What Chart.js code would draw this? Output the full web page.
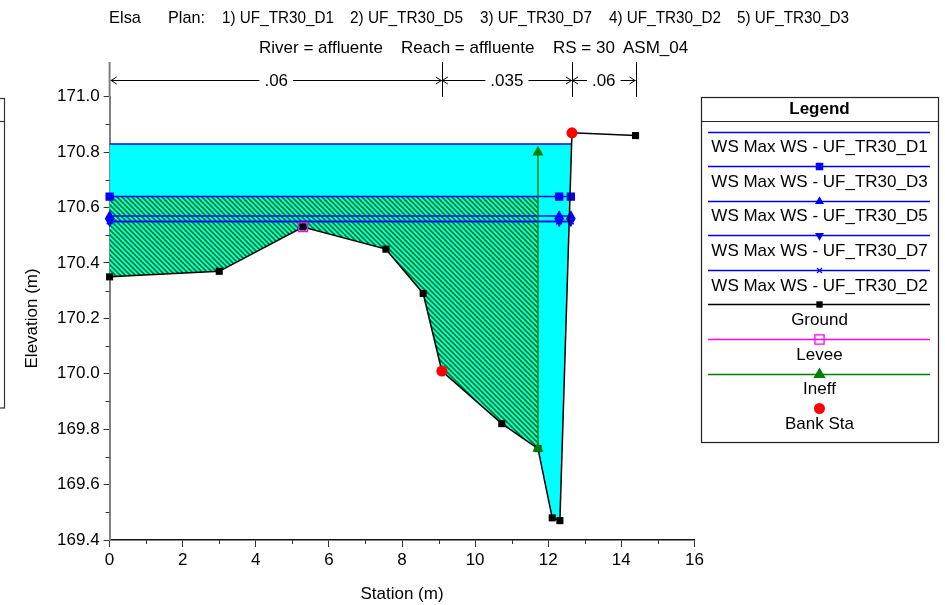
<!DOCTYPE html>
<html>
<head>
<meta charset="utf-8">
<script src="https://cdn.jsdelivr.net/npm/chart.js@4.4.1/dist/chart.umd.min.js"></script>
<style>
html,body{margin:0;padding:0;background:#fff;}
#wrap{width:945px;height:605px;position:relative;}
canvas{display:block;}
</style>
</head>
<body>
<div id="wrap"><canvas id="c" width="945" height="605"></canvas></div>
<script>
// ---------------- data ----------------
const groundStations = [0, 3.0, 5.29, 7.56, 8.58, 9.09, 10.73, 11.72, 12.11, 12.32, 12.65, 14.39];
const groundElev     = [170.35, 170.37, 170.53, 170.45, 170.29, 170.01, 169.82, 169.73, 169.48, 169.47, 170.87, 170.86];

const wsLabels   = ['WS Max WS - UF_TR30_D1', 'WS Max WS - UF_TR30_D3', 'WS Max WS - UF_TR30_D5', 'WS Max WS - UF_TR30_D7', 'WS Max WS - UF_TR30_D2'];
const wsElev     = [170.83, 170.64, 170.57, 170.55, 170.55];
const wsLeftSta  = [0, 0, 0, 0, 0];
const wsMidSta   = [12.30, 12.30, 12.30, 12.30, 12.30];
const wsRightSta = [12.64, 12.62, 12.62, 12.62, 12.62];

const leveeSta  = [5.29];
const leveeElev = [170.53];

const ineffSta  = [11.72, 11.72];
const ineffElev = [169.73, 170.80];

const bankSta  = [9.09, 12.65];
const bankElev = [170.01, 170.87];

const manningSta = [0, 9.09, 12.65, 14.39];
const manningN   = ['.06', '.035', '.06'];

const xTickValues = [0, 2, 4, 6, 8, 10, 12, 14, 16];
const yTickValues = [169.4, 169.6, 169.8, 170.0, 170.2, 170.4, 170.6, 170.8, 171.0];

const titleLine1 = ['Elsa', 'Plan:', '1) UF_TR30_D1', '2) UF_TR30_D5', '3) UF_TR30_D7', '4) UF_TR30_D2', '5) UF_TR30_D3'];
const titleLine2 = ['River = affluente', 'Reach = affluente', 'RS = 30', 'ASM_04'];

// ---------------- layout / style ----------------
const FONT = '"Liberation Sans", Arial, Helvetica, sans-serif';
const title1Pos = [[109,141],[168,205],[222,334],[350,463],[480,592],[609,721],[737,849]];
const title2Pos = [259, 401, 553, 623];
const BLUE = '#0000FF', GREEN = '#008000', CYAN = '#00FFFF';

Chart.defaults.font.family = FONT;
Chart.defaults.font.size = 17;
Chart.defaults.color = '#000';

const pts = (xs, ys) => xs.map((x, i) => ({x: x, y: ys[i]}));
const ground = pts(groundStations, groundElev);

function makeHatch() {
  const p = document.createElement('canvas');
  p.width = 5; p.height = 5;
  const g = p.getContext('2d');
  g.fillStyle = CYAN; g.fillRect(0, 0, 5, 5);
  g.strokeStyle = GREEN; g.lineWidth = 1.7;
  for (const o of [-5, 0, 5]) {
    g.beginPath(); g.moveTo(o - 1, -1); g.lineTo(o + 6, 6); g.stroke();
  }
  return g.createPattern(p, 'repeat');
}

// water area: D1 surface down to ground
const cyanPoly = [{x: wsLeftSta[0], y: wsElev[0]}, {x: wsRightSta[0], y: wsElev[0]}]
  .concat(ground.filter(p => p.x < wsRightSta[0]).reverse());
// ineffective area: below D3 surface, left of ineff station
const hatchPoly = [{x: wsLeftSta[1], y: wsElev[1]}, {x: ineffSta[0], y: wsElev[1]}, {x: ineffSta[0], y: ineffElev[0]}]
  .concat(ground.filter(p => p.x < ineffSta[0]).reverse());

const wsStyles = [
  {pointStyle: 'circle', radius: 0, rotation: 0, lr: 0},
  {pointStyle: 'rect', radius: 5, rotation: 0, lr: 4.5},
  {pointStyle: 'triangle', radius: 4.5, rotation: 0, lr: 4},
  {pointStyle: 'triangle', radius: 4.5, rotation: 180, lr: 4},
  {pointStyle: 'crossRot', radius: 4, rotation: 0, lr: 3.5}
];

const datasets = [];
datasets.push({label: 'area', data: cyanPoly, order: 20, fill: 'shape', backgroundColor: CYAN,
  borderWidth: 0, borderColor: 'rgba(0,0,0,0)', pointRadius: 0, tension: 0, noLegend: true});
datasets.push({label: 'ineffArea', data: hatchPoly, order: 19, fill: 'shape', backgroundColor: makeHatch(),
  borderWidth: 0, borderColor: 'rgba(0,0,0,0)', pointRadius: 0, tension: 0, noLegend: true});
for (let i = wsLabels.length - 1; i >= 0; i--) {
  const s = wsStyles[i];
  datasets.push({label: wsLabels[i], legendIndex: i,
    data: [{x: wsLeftSta[i], y: wsElev[i]}, {x: wsMidSta[i], y: wsElev[i]}, {x: wsRightSta[i], y: wsElev[i]}],
    order: 10 + i, borderColor: BLUE, backgroundColor: BLUE, borderWidth: 1.5, fill: false, clip: false,
    pointStyle: s.pointStyle, pointRadius: s.radius, pointRotation: s.rotation, pointBorderWidth: 1.2,
    pointBorderColor: BLUE, pointBackgroundColor: BLUE, legendRadius: s.lr, showLine: true});
}
datasets.push({label: 'Ground', legendIndex: 5, data: ground, order: 4, borderColor: '#000',
  backgroundColor: '#000', borderWidth: 1.5, fill: false, clip: false, pointStyle: 'rect', pointRadius: 5,
  pointBorderWidth: 0, legendRadius: 4.5});
datasets.push({label: 'Ineff', legendIndex: 7, data: pts(ineffSta, ineffElev), order: 3, borderColor: GREEN,
  backgroundColor: GREEN, borderWidth: 1.5, fill: false, clip: false, pointStyle: 'triangle', pointRadius: 6.5,
  pointBorderWidth: 0, legendRadius: 7});
datasets.push({label: 'Levee', legendIndex: 6, data: pts(leveeSta, leveeElev), order: 2, borderColor: '#FF00FF',
  backgroundColor: 'rgba(0,0,0,0)', borderWidth: 1.5, showLine: false, fill: false, clip: false, pointStyle: 'rect',
  pointRadius: 6.5, pointBorderWidth: 1.3, pointBorderColor: '#FF00FF', pointBackgroundColor: 'rgba(0,0,0,0)', legendRadius: 6.5});
datasets.push({label: 'Bank Sta', legendIndex: 8, data: pts(bankSta, bankElev), order: 1, borderColor: '#FF0000',
  backgroundColor: '#FF0000', showLine: false, fill: false, clip: false, pointStyle: 'circle', pointRadius: 5.5,
  pointBorderWidth: 0, legendRadius: 5.5, legendNoLine: true});

function marker(c, style, x, y, r, rot, fill, stroke, lw) {
  c.save();
  c.translate(x, y);
  c.rotate((rot || 0) * Math.PI / 180);
  c.beginPath();
  if (style === 'rect') {
    const h = r * Math.SQRT1_2;
    c.rect(-h, -h, 2 * h, 2 * h);
  } else if (style === 'triangle') {
    for (let k = 0; k < 3; k++) {
      const a = k * 2 * Math.PI / 3;
      const px = Math.sin(a) * r, py = -Math.cos(a) * r;
      if (k === 0) c.moveTo(px, py); else c.lineTo(px, py);
    }
    c.closePath();
  } else if (style === 'crossRot') {
    const h = r * Math.SQRT1_2;
    c.moveTo(-h, -h); c.lineTo(h, h); c.moveTo(-h, h); c.lineTo(h, -h);
  } else {
    c.arc(0, 0, r, 0, Math.PI * 2);
  }
  if (style !== 'crossRot' && fill) { c.fillStyle = fill; c.fill(); }
  if (stroke && lw) { c.strokeStyle = stroke; c.lineWidth = lw; c.stroke(); }
  c.restore();
}

const decor = {
  id: 'decor',
  afterDraw(chart) {
    const c = chart.ctx, xs = chart.scales.x, ys = chart.scales.y, a = chart.chartArea;
    c.save();
    // minor ticks
    c.strokeStyle = '#333'; c.lineWidth = 1;
    c.beginPath();
    for (let v = 1; v < 16; v += 2) {
      const px = Math.round(xs.getPixelForValue(v)) + 0.5;
      c.moveTo(px, a.bottom); c.lineTo(px, a.bottom + 4);
    }
    for (let k = 0; k < yTickValues.length - 1; k++) {
      const v = (yTickValues[k] + yTickValues[k + 1]) / 2;
      const py = Math.round(ys.getPixelForValue(v)) + 0.5;
      c.moveTo(a.left - 4, py); c.lineTo(a.left, py);
    }
    c.stroke();

    // Manning's n annotation
    const yTop = 62, yArr = 80.5;
    manningSta.forEach((s, i) => {
      const px = xs.getPixelForValue(s);
      c.beginPath();
      c.strokeStyle = i === 0 ? '#808080' : '#000';
      c.lineWidth = i === 0 ? 2 : 1;
      const xx = i === 0 ? px : Math.round(px) + 0.5;
      c.moveTo(xx, yTop); c.lineTo(xx, a.top);
      c.stroke();
    });
    c.font = '17px ' + FONT; c.textAlign = 'center'; c.textBaseline = 'middle'; c.fillStyle = '#000';
    c.strokeStyle = '#000'; c.lineWidth = 1;
    for (let i = 0; i < manningN.length; i++) {
      const xL = xs.getPixelForValue(manningSta[i]) + (i === 0 ? 1 : 0);
      const xR = xs.getPixelForValue(manningSta[i + 1]);
      const cx = (xL + xR) / 2;
      const w = c.measureText(manningN[i]).width;
      c.beginPath();
      c.moveTo(xL, yArr); c.lineTo(cx - w / 2 - 5, yArr);
      c.moveTo(cx + w / 2 + 5, yArr); c.lineTo(xR, yArr);
      c.moveTo(xL + 6, yArr - 3.5); c.lineTo(xL + 0.5, yArr); c.lineTo(xL + 6, yArr + 3.5);
      c.moveTo(xR - 6, yArr - 3.5); c.lineTo(xR - 0.5, yArr); c.lineTo(xR - 6, yArr + 3.5);
      c.stroke();
      c.fillText(manningN[i], cx, yArr + 1);
    }

    // titles
    c.textAlign = 'left'; c.textBaseline = 'middle';
    c.font = '16px ' + FONT;
    titleLine1.forEach((t, i) => {
      const [x0, x1] = title1Pos[i];
      const w = c.measureText(t).width;
      c.save(); c.translate(x0, 18); c.scale((x1 - x0) / w, 1.05); c.fillText(t, 0, 0); c.restore();
    });
    c.font = '17px ' + FONT;
    titleLine2.forEach((t, i) => { c.fillText(t, title2Pos[i], 48); });

    // legend box
    const L = 701.5, T = 97.5, W = 237, H = 345;
    c.strokeStyle = '#222'; c.lineWidth = 1.2;
    c.strokeRect(L, T, W, H);
    c.beginPath(); c.moveTo(L, 121.5); c.lineTo(L + W, 121.5); c.stroke();
    c.font = 'bold 17px ' + FONT; c.textAlign = 'center';
    c.fillText('Legend', 819.5, 109);
    c.font = '17px ' + FONT;
    const items = chart.data.datasets.filter(d => !d.noLegend).sort((p, q) => p.legendIndex - q.legendIndex);
    items.forEach((d, k) => {
      const y = 131.7 + k * 34.55;
      if (!d.legendNoLine) {
        c.beginPath(); c.strokeStyle = d.borderColor; c.lineWidth = 1.3;
        c.moveTo(708, Math.round(y) + 0.5); c.lineTo(930, Math.round(y) + 0.5); c.stroke();
      }
      const fillC = d.pointBackgroundColor || d.backgroundColor;
      const strokeC = d.pointBorderColor || d.borderColor;
      if (d.legendRadius > 0) {
        marker(c, d.pointStyle, 819.5, Math.round(y) + 0.5, d.legendRadius, d.pointRotation,
          fillC, strokeC, d.pointBorderWidth || 0);
      }
      c.fillStyle = '#000';
      c.fillText(d.label, 819.5, y + 16);
    });

    // clipped box at the left edge
    c.strokeStyle = '#333'; c.lineWidth = 1.2;
    c.strokeRect(-5, 98.5, 9.5, 309.5);
    c.beginPath(); c.moveTo(0, 121.5); c.lineTo(4.5, 121.5); c.stroke();
    c.restore();
  }
};

new Chart(document.getElementById('c'), {
  type: 'line',
  data: {datasets: datasets},
  options: {
    responsive: false,
    animation: false,
    devicePixelRatio: 1,
    parsing: true,
    layout: {padding: {top: 96.8, right: 250.6, left: 0, bottom: 0}},
    plugins: {legend: {display: false}, tooltip: {enabled: false}},
    elements: {line: {tension: 0}},
    scales: {
      x: {
        type: 'linear', min: 0, max: 16,
        afterBuildTicks: s => { s.ticks = xTickValues.map(v => ({value: v})); },
        afterFit: s => { s.height = 65; },
        ticks: {autoSkip: false, maxRotation: 0, padding: 3, color: '#000', font: {size: 17},
          callback: v => String(v)},
        grid: {drawOnChartArea: false, drawTicks: true, tickLength: 7, tickColor: '#333', tickWidth: 1},
        border: {display: true, color: '#111', width: 1.5},
        title: {display: true, text: 'Station (m)', font: {size: 17}, color: '#000', padding: {top: 0, bottom: 0.5}}
      },
      y: {
        type: 'linear', min: 169.4, max: 171.0,
        afterBuildTicks: s => { s.ticks = yTickValues.map(v => ({value: v})); },
        afterFit: s => { s.width = 109.6; },
        ticks: {autoSkip: false, padding: 4, color: '#000', font: {size: 17},
          callback: v => Number(v).toFixed(1)},
        grid: {drawOnChartArea: false, drawTicks: true, tickLength: 6, tickColor: '#333', tickWidth: 1},
        border: {display: true, color: '#808080', width: 2},
        title: {display: true, text: 'Elevation (m)', font: {size: 17}, color: '#000', padding: {top: 22, bottom: 0}}
      }
    }
  },
  plugins: [decor]
});
</script>
</body>
</html>
